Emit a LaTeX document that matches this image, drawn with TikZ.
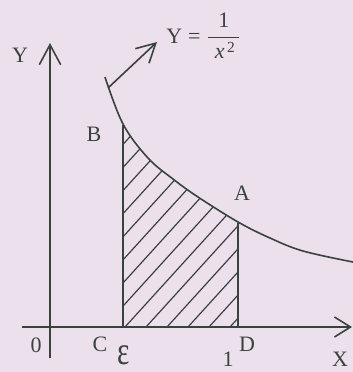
\documentclass[tikz,border=0pt]{standalone}
\usepackage{amsmath}
\usepackage{fontspec}
\setmainfont{Liberation Serif}
\usetikzlibrary{arrows.meta,positioning}
\definecolor{paper}{RGB}{236,224,236}
\definecolor{ink}{RGB}{58,66,62}
\tikzstyle{axis} = [draw=ink, line width=1.2pt]
\tikzstyle{hatch} = [draw=ink, line width=0.9pt]
\tikzstyle{lbl} = [text=ink, inner sep=0pt,
    font=\fontsize{16.5}{18}\selectfont]

\begin{document}
\begin{tikzpicture}[x=0.75pt, y=-0.75pt]
  % Page
  \fill[paper] (0,0) rectangle (353,372);
  \useasboundingbox (0,0) rectangle (353,372);
  % Place points
  \coordinate (ytop) at (50,43);
  \coordinate (ybot) at (50,358);
  \coordinate (xleft) at (22,327);
  \coordinate (xright) at (352,327);
  \coordinate (c) at (123,327);
  \coordinate (b) at (123,125);
  \coordinate (d) at (238,327);
  \coordinate (a) at (238,223);
  \coordinate (cfoot) at (108,88);
  \coordinate (ctip) at (157,42);
  % Hatching
  \begin{scope}
    \clip (123,0) rectangle (238,327);
    \clip plot[smooth, tension=0.6] coordinates {(105,77) (123,124)
      (148,158) (173,179) (198,197) (238,222) (270,238) (303,251)
      (353,262)} -- (353,372) -- (105,372) -- cycle;
    \foreach \s in {-10,...,5}
      \draw[hatch] (125+21*\s,327) -- ++(280,-308);
  \end{scope}
  % Axes
  \draw[axis, -{Straight Barb[length=15pt,width=16pt]}] (ybot) -- (ytop);
  \draw[axis, -{Straight Barb[length=12pt,width=15pt]}] (xleft) -- (xright);
  % Curve
  \draw[axis] plot[smooth, tension=0.6] coordinates {(105,77) (123,124)
      (148,158) (173,179) (198,197) (238,222) (270,238) (303,251)
      (353,262)};
  \draw[axis] (c) -- (b);
  \draw[axis] (d) -- (a);
  \draw[axis, -{Straight Barb[length=14pt,width=15pt]}] (cfoot) -- (ctip);
  % Labels
  \node[lbl] (ylab) at (20,55) {Y};
  \node[lbl] (blab) at (94,134) {B};
  \node[lbl] (alab) at (242,193) {A};
  \node[lbl] (olab) at (36,345) {0};
  \node[lbl] (clab) at (100,344) {C};
  \node[lbl, font=\fontsize{20}{22}\selectfont] (elab) at (124,355)
    {\scalebox{1.1}[1.5]{ε}};
  \node[lbl] (dlab) at (247,344) {D};
  \node[lbl] (xlab) at (340,359) {X};
  \node[lbl, anchor=north] (one) at (228,352) {1};
  \node[lbl, anchor=base west] (flab) at (166,43)
    {Y\;=\;$\dfrac{\text{1}}{\;\text{\itshape x}^{\,\text{2}}\,}$};
\end{tikzpicture}
\end{document}
